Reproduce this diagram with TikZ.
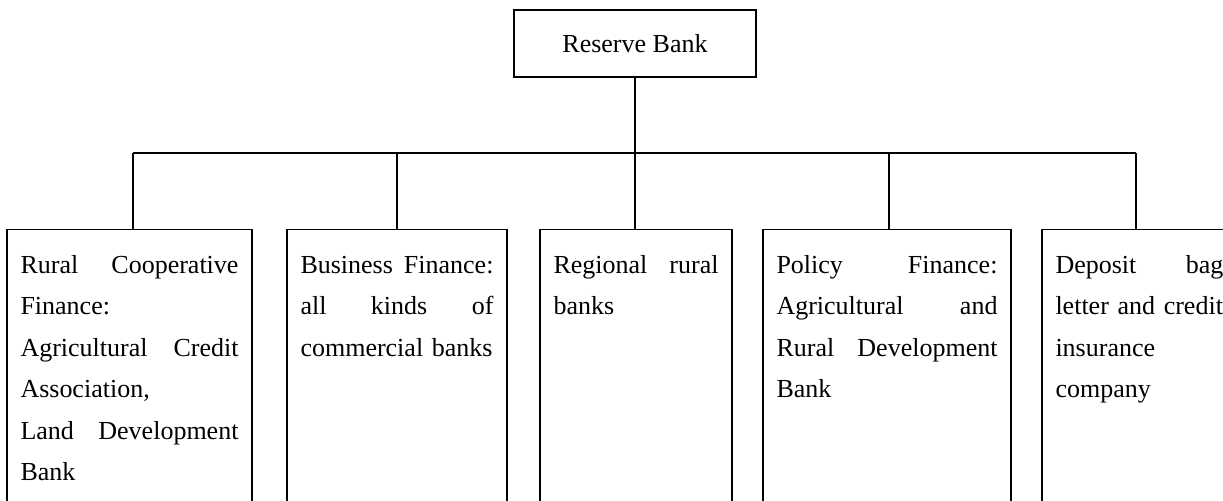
\documentclass[tikz,border=0pt]{standalone}
\usepackage{fontspec}
\setmainfont{Liberation Serif}
\begin{document}
\begin{tikzpicture}[x=0.5pt,y=-0.5pt,line width=0.6pt]
  \tikzset{ unit/.style={draw, minimum height=160pt, anchor=north, inner sep=0pt},
            txt/.style={anchor=north west, inner sep=0pt, align=left,
              font=\fontsize{13}{20.7}\selectfont, execute at begin node=\strut} };
  \useasboundingbox (0,0) rectangle (1223,501);
  \clip (0,0) rectangle (1223,501);
  % top
  \node[draw, minimum width=121pt, minimum height=33.5pt, font=\fontsize{13}{15}\selectfont] (R) at (635,43.5) {Reserve Bank};
  \coordinate (J) at (635,153);
  \coordinate (j1) at (133,153);
  \coordinate (j2) at (397,153);
  \coordinate (j3) at (635,153);
  \coordinate (j4) at (889,153);
  \coordinate (j5) at (1136,153);
  % the five units
  \node[unit, minimum width=122.5pt] (b1) at (129.5,229) {};
  \node[unit, minimum width=110pt]   (b2) at (397,229) {};
  \node[unit, minimum width=96pt]    (b3) at (636,229) {};
  \node[unit, minimum width=124pt]   (b4) at (887,229) {};
  \node[unit, minimum width=100pt]   (b5) at (1142,229) {};
  \node[txt, text width=109pt] (t1) at ([xshift=6.75pt,yshift=-7.5pt]b1.north west)
    {Rural\hfill Cooperative\\ Finance:\\ Agricultural\hfill Credit\\ Association,\\ Land\hfill Development\\ Bank};
  \node[txt, text width=96.5pt] (t2) at ([xshift=6.75pt,yshift=-7.5pt]b2.north west)
    {Business\hfill Finance:\\ all\hfill kinds\hfill of\\ commercial banks};
  \node[txt, text width=82.5pt] (t3) at ([xshift=6.75pt,yshift=-7.5pt]b3.north west)
    {Regional\hfill rural\\ banks};
  \node[txt, text width=110.5pt] (t4) at ([xshift=6.75pt,yshift=-7.5pt]b4.north west)
    {Policy\hfill Finance:\\ Agricultural\hfill and\\ Rural\hfill Development\\ Bank};
  \node[txt, text width=84pt] (t5) at ([xshift=6.75pt,yshift=-7.5pt]b5.north west)
    {Deposit\hfill bag\\ letter and credit\\ insurance\\ company};
  % connectors
  \draw (R) -- (J);
  \draw (j1) -- (j5);
  \draw (j1) -- (j1 |- b1.north);
  \draw (j2) -- (j2 |- b2.north);
  \draw (j3) -- (j3 |- b3.north);
  \draw (j4) -- (j4 |- b4.north);
  \draw (j5) -- (j5 |- b5.north);
\end{tikzpicture}
\end{document}
